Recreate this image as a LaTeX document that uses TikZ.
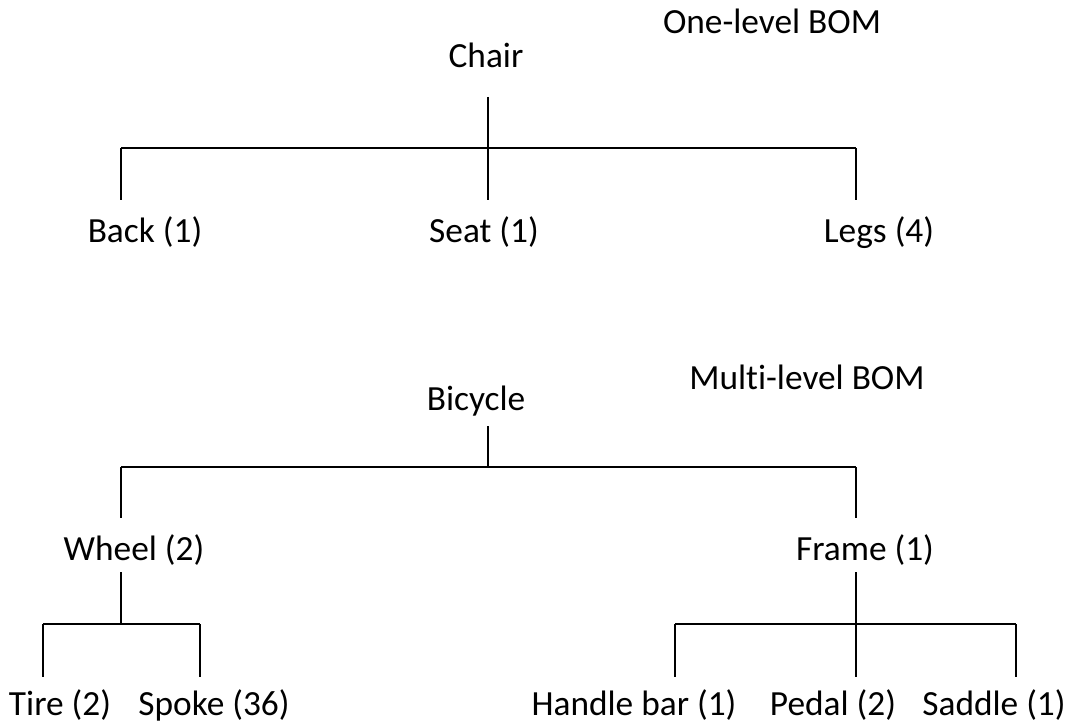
\documentclass[tikz,border=0pt]{standalone}
\usepackage{fontspec}
\setmainfont[Ligatures=NoCommon]{Carlito}
\usepackage{tikz}
\usetikzlibrary{positioning}

\tikzset{
  part/.style={anchor=base, inner sep=0pt, font=\fontsize{26.5}{31}\selectfont},
  stem/.style={line width=1.1pt},
  bar/.style={line width=1.6pt},
}

\begin{document}
\begin{tikzpicture}[x=0.75pt,y=-0.75pt]
      \useasboundingbox (0,0) rectangle (1068,724);
      % one-level BOM
      \node[part] (onelvl) at (772,34) {One-level BOM};
      \node[part] (chair) at (486,68) {Chair};
      \node[part] (back) at (145,242) {Back (1)};
      \node[part] (seat) at (484,242) {Seat (1)};
      \node[part] (legs) at (879,242) {Legs (4)};
      \coordinate (chairtop) at (488,97);
      \coordinate (chairbar) at (488,148);
      \coordinate (backend) at (121,200);
      \coordinate (seatend) at (488,200);
      \coordinate (legsend) at (856,200);
      \draw[stem] (chairtop) -- (seatend);
      \draw[bar] (backend |- chairbar) -- (legsend |- chairbar);
      \foreach \c in {backend, legsend}
      \draw[stem] (\c |- chairbar) -- (\c);
      % multi-level BOM
      \node[part] (multilvl) at (807,389) {Multi-level BOM};
      \node[part] (bicycle) at (476,410) {Bicycle};
      \node[part] (wheel) at (134,560) {Wheel (2)};
      \node[part] (frame) at (865,560) {Frame (1)};
      \node[part] (tire) at (60,715) {Tire (2)};
      \node[part] (spoke) at (214,715) {Spoke (36)};
      \node[part] (handle) at (634,715) {Handle bar (1)};
      \node[part] (pedal) at (833,715) {Pedal (2)};
      \node[part] (saddle) at (994,715) {Saddle (1)};
      \coordinate (bicycletop) at (488,426);
      \coordinate (bicyclebar) at (488,467);
      \coordinate (wheelend) at (121,518);
      \coordinate (frameend) at (856,518);
      \coordinate (wheeltop) at (121,572);
      \coordinate (wheelbar) at (121,624);
      \coordinate (frametop) at (856,572);
      \coordinate (framebar) at (856,624);
      \coordinate (tireend) at (43,677);
      \coordinate (spokeend) at (200,677);
      \coordinate (handleend) at (675,677);
      \coordinate (pedalend) at (856,677);
      \coordinate (saddleend) at (1016,677);
      \draw[stem] (bicycletop) -- (bicyclebar);
      \draw[bar] (wheelend |- bicyclebar) -- (frameend |- bicyclebar);
      \foreach \c in {wheelend, frameend}
      \draw[stem] (\c |- bicyclebar) -- (\c);
      \draw[stem] (wheeltop) -- (wheelbar);
      \draw[bar] (tireend |- wheelbar) -- (spokeend |- wheelbar);
      \foreach \c in {tireend, spokeend}
      \draw[stem] (\c |- wheelbar) -- (\c);
      \draw[stem] (frametop) -- (pedalend);
      \draw[bar] (handleend |- framebar) -- (saddleend |- framebar);
      \foreach \c in {handleend, saddleend}
      \draw[stem] (\c |- framebar) -- (\c);
    \end{tikzpicture}
\end{document}
